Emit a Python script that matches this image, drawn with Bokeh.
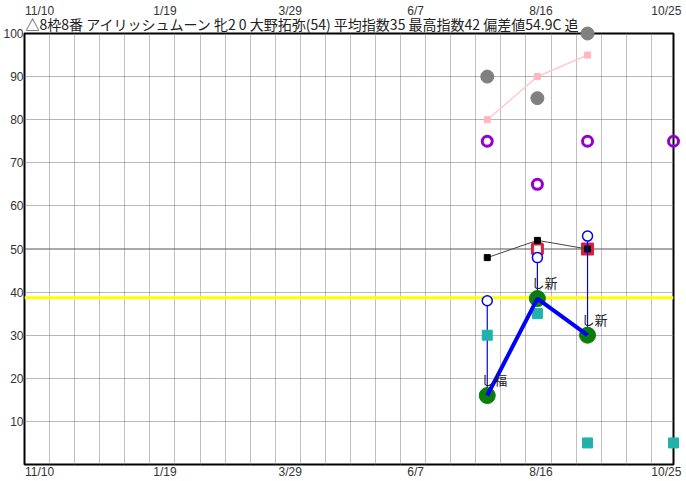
import pandas as pd
from bokeh.plotting import figure
from bokeh.models import Range1d, FixedTicker, LinearAxis, Span, Title, Grid
from bokeh.core.properties import value
from bokeh.embed import file_html
from bokeh.resources import INLINE

# ---------------- data ----------------
origin = pd.Timestamp("2023-11-10")

title_text = "△8枠8番 アイリッシュムーン 牝2 0 大野拓弥(54) 平均指数35 最高指数42 偏差値54.9C 追"

tick_dates = ["2023-11-10", "2024-01-19", "2024-03-29", "2024-06-07", "2024-08-16", "2024-10-25"]
tick_labels = ["11/10", "1/19", "3/29", "6/7", "8/16", "10/25"]
y_ticks = [10, 20, 30, 40, 50, 60, 70, 80, 90, 100]

race_dates = ["2024-07-17", "2024-08-14", "2024-09-11"]
next_date = ["2024-10-29"]

gray_vals = [90, 85, 100]
pink_vals = [80, 90, 95]
purple_vals = [75, 65, 75]
purple_next = [75]
black_vals = [48, 52, 50]
red_open_dates = ["2024-08-14"]
red_open_vals = [50]
red_fill_dates = ["2024-09-11"]
red_fill_vals = [50]
blue_vals = [38, 48, 53]
teal_vals = [30, 35, 5]
teal_next = [5]
green_vals = [16, 38.5, 30]
course_labels = ["し福", "し新", "し新"]

base_line = 50
avg_line = 38.7


def days(ds):
    return [(pd.Timestamp(d) - origin).days for d in ds]


rx = days(race_dates)
nx = days(next_date)

# ---------------- figure ----------------
x_start, x_end = -8.4, 354
p = figure(width=686, height=481, output_backend="svg", toolbar_location=None,
           x_range=Range1d(x_start, x_end), y_range=Range1d(0, 100),
           x_axis_type=None, y_axis_type=None, title=None,
           min_border_left=24, min_border_top=32, min_border_bottom=0, min_border_right=13,
           background_fill_color="white", border_fill_color="white")
p.outline_line_color = "black"
p.outline_line_width = 2
p.outline_line_alpha = 1.0

LABEL_FONT = "Liberation Sans"


def style_axis(ax):
    ax.major_tick_in = 0
    ax.major_tick_out = 0
    ax.minor_tick_in = 0
    ax.minor_tick_out = 0
    ax.axis_line_color = None
    ax.major_label_text_font = LABEL_FONT
    ax.major_label_text_font_size = "12px"
    ax.major_label_text_color = "#333333"
    ax.major_label_standoff = 1


xt_ticks = days(tick_dates)
overrides = {t: l for t, l in zip(xt_ticks, tick_labels)}

bottom = LinearAxis(ticker=FixedTicker(ticks=xt_ticks), major_label_overrides=overrides)
style_axis(bottom)
bottom.major_label_standoff = 0
p.add_layout(bottom, "below")

left = LinearAxis(ticker=FixedTicker(ticks=y_ticks))
style_axis(left)
p.add_layout(left, "left")

title = Title(text=title_text, text_font="Noto Sans CJK JP", text_font_size="14px",
              text_font_style="normal", text_color="#222222", align="left", standoff=0, offset=1)
p.add_layout(title, "above")

top = LinearAxis(ticker=FixedTicker(ticks=xt_ticks), major_label_overrides=overrides)
style_axis(top)
top.major_label_standoff = -6
p.add_layout(top, "above")

# grids
grid_x = [x_start + 14 * k for k in range(1, 26)]
xg = Grid(dimension=0, ticker=FixedTicker(ticks=grid_x), grid_line_color="#808080",
          grid_line_dash="1 1", grid_line_width=1)
yg = Grid(dimension=1, ticker=FixedTicker(ticks=[10, 20, 30, 40, 60, 70, 80, 90]),
          grid_line_color="#707070", grid_line_dash="1 1", grid_line_width=1)
p.add_layout(xg, "center")
p.add_layout(yg, "center")

p.add_layout(Span(location=base_line, dimension="width", line_color="#555555",
                  line_width=1, level="underlay"), "center")
p.add_layout(Span(location=avg_line, dimension="width", line_color="#ffff00",
                  line_width=3, level="underlay"), "center")

rends = []
# pink
rends.append(p.line(rx, pink_vals, line_color="#ffc8d2", line_width=1.5))
rends.append(p.scatter(rx, pink_vals, marker="square", size=6, fill_color="#ffb6c1", line_color="#ffb6c1"))
# gray
rends.append(p.scatter(rx, gray_vals, marker="circle", size=13, fill_color="#808080", line_color="#808080"))
# purple
rends.append(p.scatter(rx + nx, purple_vals + purple_next, marker="circle", size=10,
                       fill_color=None, line_color="#9400d3", line_width=3))
# red
rends.append(p.scatter(days(red_open_dates), red_open_vals, marker="square", size=10,
                       fill_color="white", line_color="#dc1e3c", line_width=3))
rends.append(p.scatter(days(red_fill_dates), red_fill_vals, marker="square", size=12,
                       fill_color="#dc1e3c", line_color="#dc1e3c", line_width=1))
# black
rends.append(p.line(rx, black_vals, line_color="#444444", line_width=1))
rends.append(p.scatter(rx, black_vals, marker="square", size=6, fill_color="black", line_color="black"))
# blue segments + open circles
rends.append(p.segment(x0=rx, y0=blue_vals, x1=rx, y1=green_vals, line_color="#0000ff", line_width=1.2))
rends.append(p.scatter(rx, blue_vals, marker="circle", size=10, fill_color="white",
                       line_color="#0000ff", line_width=1.5))
# teal
rends.append(p.scatter(rx + nx, teal_vals + teal_next, marker="square", size=10,
                       fill_color="#20b2aa", line_color="#20b2aa"))
# green + thick blue line
rends.append(p.scatter(rx, green_vals, marker="circle", size=16, fill_color="#0a7d0a", line_color="#0a7d0a"))
rends.append(p.line(rx, green_vals, line_color="#0000ff", line_width=4))
# course labels
rends.append(p.text(x=rx, y=green_vals, text=course_labels, x_offset=-6, y_offset=-16,
                    text_font=value("Noto Sans CJK JP"), text_font_size="13px",
                    text_baseline="middle", text_align="left", text_color="#222222"))
for r in rends:
    r.level = "annotation"

open("out.html", "w").write(file_html(p, INLINE))
